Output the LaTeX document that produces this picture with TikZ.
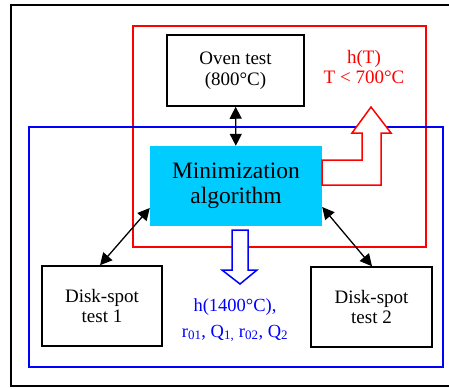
\documentclass[tikz,border=0pt]{standalone}
\usepackage{fontspec}
\setmainfont{Liberation Serif}
\usetikzlibrary{arrows.meta}
\definecolor{algocyan}{RGB}{0,204,255}
\tikzset{
  testbox/.style={draw,line width=1.5pt,align=center,font=\fontsize{19}{20.5}\selectfont},
  dblarrow/.style={{Triangle[length=12pt,width=12pt]}-{Triangle[length=12pt,width=12pt]},line width=1.3pt}
}
\begin{document}
\begin{tikzpicture}[x=1pt,y=-1pt]
        \useasboundingbox (0,0) rectangle (449,388);
        \draw[line width=1.5pt] (11,5) rectangle (460,386); % marco
        \draw[red,line width=1.5pt] (133,26) rectangle (426,247); % caja roja
        \draw[blue,line width=1.5pt] (29,127) rectangle (443,367); % caja azul
        \node[testbox,minimum width=137pt,minimum height=71pt] (oven) at (235.5,70.5) {Oven test\\(800°C)};
        \node[fill=algocyan,minimum width=172pt,minimum height=80pt,align=center,font=\fontsize{23.5}{25.5}\selectfont] (algo) at (236,186) {Minimization\\algorithm};
        \node[testbox,minimum width=120pt,minimum height=80pt] (disk1) at (102,306) {Disk-spot\\test 1};
        \node[testbox,minimum width=121pt,minimum height=80pt] (disk2) at (371.5,307) {Disk-spot\\test 2};
        \node[red,align=center,font=\fontsize{19}{20.5}\selectfont] (hT) at (364,67) {h(T)\\T < 700°C};
        \node[blue,align=center,font=\fontsize{18.5}{26}\selectfont] (hQ) at (235,320) {h(1400°C),\\r\textsubscript{01}, Q\textsubscript{1,} r\textsubscript{02}, Q\textsubscript{2}};
        % flechas
        \draw[dblarrow] (oven) -- (algo);
        \draw[dblarrow] ([yshift=-22pt]algo.west) -- ([xshift=-2pt]disk1.north);
        \draw[dblarrow] ([yshift=-21pt]algo.east) -- ([xshift=0.5pt]disk2.north);
        \draw[red,line width=1.5pt,fill=white] (algo.east |- 0,160) -- (362,160) -- (362,133) -- (352,133) -- (371,107) -- (391,133) -- (381,133) -- (381,185) -- (algo.east |- 0,185) -- cycle;
        \draw[blue,line width=1.5pt,fill=white] (232,230) -- (248,230) -- (248,270) -- (257,270) -- (240,284) -- (222,270) -- (232,270) -- cycle;
\end{tikzpicture}
\end{document}
